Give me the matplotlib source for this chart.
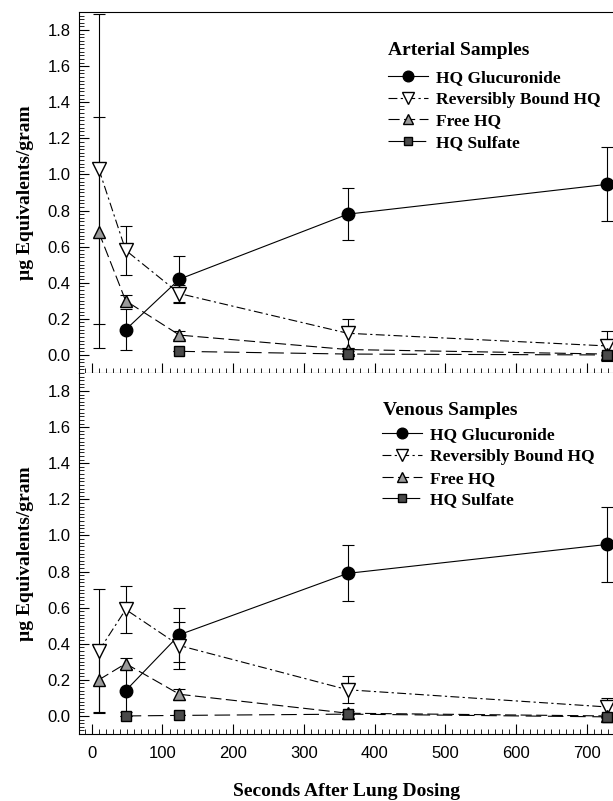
import numpy as np
import matplotlib
matplotlib.use("Agg")
import matplotlib.pyplot as plt
from matplotlib.ticker import MultipleLocator

plt.rcParams['font.family'] = ['Liberation Sans', 'DejaVu Sans']
plt.rcParams['figure.dpi'] = 100

nan = np.nan

# sampling times (s)
times = [10, 48, 124, 362, 728]

# arterial samples
art_gluc = [nan, 0.14, 0.42, 0.78, 0.945]
art_gluc_err = [nan, 0.115, 0.13, 0.145, 0.205]
art_rev = [1.03, 0.58, 0.34, 0.12, 0.05]
art_rev_err = [0.86, 0.135, 0.045, 0.08, 0.085]
art_free = [0.68, 0.30, 0.11, 0.03, 0.005]
art_free_err = [0.64, 0.03, 0.02, 0.01, 0.01]
art_sulf = [nan, nan, 0.02, 0.005, 0.0]
art_sulf_err = [nan, nan, 0.0, 0.0, 0.0]

# venous samples
ven_gluc = [nan, 0.14, 0.45, 0.79, 0.95]
ven_gluc_err = [nan, 0.12, 0.15, 0.155, 0.207]
ven_rev = [0.36, 0.59, 0.39, 0.145, 0.05]
ven_rev_err = [0.345, 0.13, 0.13, 0.075, 0.05]
ven_free = [0.20, 0.29, 0.12, 0.015, 0.0]
ven_free_err = [0.18, 0.03, 0.03, 0.01, 0.01]
ven_sulf = [nan, 0.0, 0.003, 0.01, -0.005]
ven_sulf_err = [nan, 0.0, 0.0, 0.0, 0.0]

names = ['HQ Glucuronide', 'Reversibly Bound HQ', 'Free HQ', 'HQ Sulfate']
styles = [
    dict(marker='o', ms=9, mfc='black', mec='black', ls='-'),
    dict(marker='v', ms=10, mfc='white', mec='black', ls=(0, (8, 3, 2, 3))),
    dict(marker='^', ms=9, mfc='#9a9a9a', mec='black', ls=(0, (10, 4))),
    dict(marker='s', ms=7.5, mfc='#4a4a4a', mec='black', ls=(0, (14, 6))),
]

serif = dict(family=['Liberation Serif', 'DejaVu Serif'], weight='bold')

fig = plt.figure(figsize=(6.13, 8.01))
ax1 = fig.add_axes([79/613, 1-373/801, 1-79/613, 361/801])
ax2 = fig.add_axes([79/613, 1-734/801, 1-79/613, 361/801], sharex=ax1)


def draw(ax, series, title, tx, ty, lx, ly):
    handles = []
    for (vals, errs), name, st in zip(series, names, styles):
        ax.errorbar(times, vals, yerr=errs, fmt='none', ecolor='black',
                    elinewidth=0.8, capsize=4, capthick=0.8, zorder=2)
        h, = ax.plot(times, vals, color='black', lw=0.8, label=name, zorder=3, **st)
        handles.append(h)
    ax.text(tx, ty, title, transform=ax.transAxes, fontsize=14,
            va='center', ha='left', **serif)
    ax.legend(handles=handles, loc='upper left', bbox_to_anchor=(lx, ly),
              frameon=False, borderpad=0, borderaxespad=0, handlelength=2.3,
              handletextpad=0.5, labelspacing=0.32, markerscale=0.85,
              prop=dict(family=['Liberation Serif'], weight='bold', size=12.5))
    ax.set_ylim(-0.1, 1.9)
    ax.set_xlim(-18, 737)
    ax.yaxis.set_minor_locator(MultipleLocator(0.02))
    ax.xaxis.set_major_locator(MultipleLocator(100))
    ax.xaxis.set_minor_locator(MultipleLocator(10))
    ax.tick_params(which='both', direction='in', labelsize=12)
    ax.tick_params(which='major', length=7, width=0.8)
    ax.tick_params(which='minor', length=3.5, width=0.6)
    ax.tick_params(axis='y', pad=6)
    ax.tick_params(axis='x', pad=9)
    ax.spines['right'].set_visible(False)
    ax.set_yticks(np.arange(0, 1.81, 0.2))
    ax.set_yticklabels([f'{v:.1f}' for v in np.arange(0, 1.81, 0.2)])
    ax.set_ylabel('\u00b5g Equivalents/gram', fontsize=14, labelpad=10, **serif)


draw(ax1, [(art_gluc, art_gluc_err), (art_rev, art_rev_err),
           (art_free, art_free_err), (art_sulf, art_sulf_err)],
     'Arterial Samples', 0.579, 0.894, 0.578, 0.84)
draw(ax2, [(ven_gluc, ven_gluc_err), (ven_rev, ven_rev_err),
           (ven_free, ven_free_err), (ven_sulf, ven_sulf_err)],
     'Venous Samples', 0.569, 0.895, 0.567, 0.85)

plt.setp(ax1.get_xticklabels(), visible=False)
ax2.spines['top'].set_visible(False)

fig.text(347/613, 1-792/801, 'Seconds After Lung Dosing', ha='center', va='center',
         fontsize=14, **serif)

plt.savefig('out.png', dpi=100)
